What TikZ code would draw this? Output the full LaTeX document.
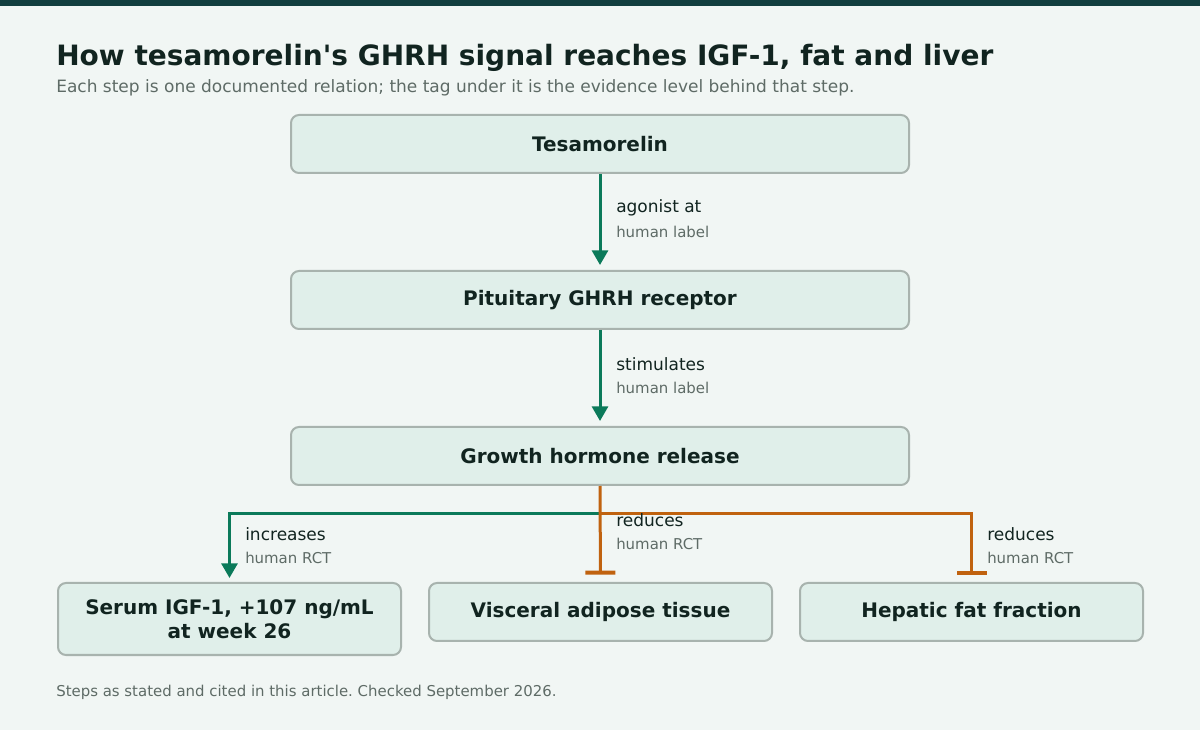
\documentclass[tikz,border=0pt]{standalone}
\usepackage{fontspec}
\setmainfont{DejaVu Sans}[Ligatures=TeXOff]
\usetikzlibrary{arrows.meta}
\frenchspacing
\definecolor{bgcol}{HTML}{F1F6F4}
\definecolor{barcol}{HTML}{123F3F}
\definecolor{boxfill}{HTML}{E0EFEA}
\definecolor{boxline}{HTML}{A8B3AE}
\definecolor{inkcol}{HTML}{112420}
\definecolor{greycol}{HTML}{5E6B66}
\definecolor{upcol}{HTML}{0B7A5A}
\definecolor{downcol}{HTML}{C0620F}
\begin{document}
\begin{tikzpicture}[x=0.75pt,y=-0.75pt,
  stepbox/.style={draw=boxline,line width=1.5pt,fill=boxfill,rounded corners=6pt,
    minimum width=463.5pt,minimum height=43.5pt,align=center,text=inkcol,
    font=\fontsize{15}{18}\selectfont\bfseries},
  endbox/.style={stepbox,minimum width=257.25pt},
  verb/.style={anchor=west,inner sep=0pt,text=inkcol,font=\fontsize{12.75}{15}\selectfont},
  tag/.style={anchor=west,inner sep=0pt,text=greycol,font=\fontsize{11.2}{13}\selectfont},
  up/.style={draw=upcol,line width=2.25pt,-{Triangle[width=12pt,length=11pt]}},
  down/.style={draw=downcol,line width=2.25pt,-{Bar[width=22.5pt,line width=3pt]}}]
\fill[bgcol] (0,0) rectangle (1200,730);
\fill[barcol] (0,0) rectangle (1200,6);
\node[anchor=west,inner sep=0pt,text=inkcol,font=\fontsize{21}{25}\selectfont\bfseries] (title) at (56,58) {How tesamorelin's GHRH signal reaches IGF-1, fat and liver};
\node[anchor=west,inner sep=0pt,text=greycol,font=\fontsize{12.75}{15}\selectfont] (sub) at (56,88) {Each step is one documented relation; the tag under it is the evidence level behind that step.};
\node[stepbox] (tesa) at (600,144) {Tesamorelin};
\node[stepbox] (rec) at (600,300) {Pituitary GHRH receptor};
\node[stepbox] (gh) at (600,456) {Growth hormone release};
\node[endbox,minimum height=54pt] (igf) at (229.5,619) {Serum IGF-1, +107 ng/mL\\at week 26};
\node[endbox] (vat) at (600.5,612) {Visceral adipose tissue};
\node[endbox] (liver) at (971.5,612) {Hepatic fat fraction};
\coordinate (split) at (600,514);
\draw[up,shorten >=3.75pt] (tesa) -- (rec);
\draw[up,shorten >=3.75pt] (rec) -- (gh);
\draw[up,shorten >=3pt] (split) -| (igf.north);
\draw[down,shorten >=5.5pt] (gh) -- (vat);
\draw[down,shorten >=5.5pt] (split) -| (liver.north);
\node[verb] (v1) at (616,208) {agonist at};
\node[tag] (t1) at (616,232) {human label};
\node[verb] (v2) at (616,364) {stimulates};
\node[tag] (t2) at (616,388) {human label};
\node[verb] (v3) at (245,534) {increases};
\node[tag] (t3) at (245,558) {human RCT};
\node[verb] (v4) at (616,520) {reduces};
\node[tag] (t4) at (616,544) {human RCT};
\node[verb] (v5) at (987,534) {reduces};
\node[tag] (t5) at (987,558) {human RCT};
\node[anchor=west,inner sep=0pt,text=greycol,font=\fontsize{11.2}{13}\selectfont] (foot) at (56,692) {Steps as stated and cited in this article. Checked September 2026.};
\end{tikzpicture}
\end{document}
